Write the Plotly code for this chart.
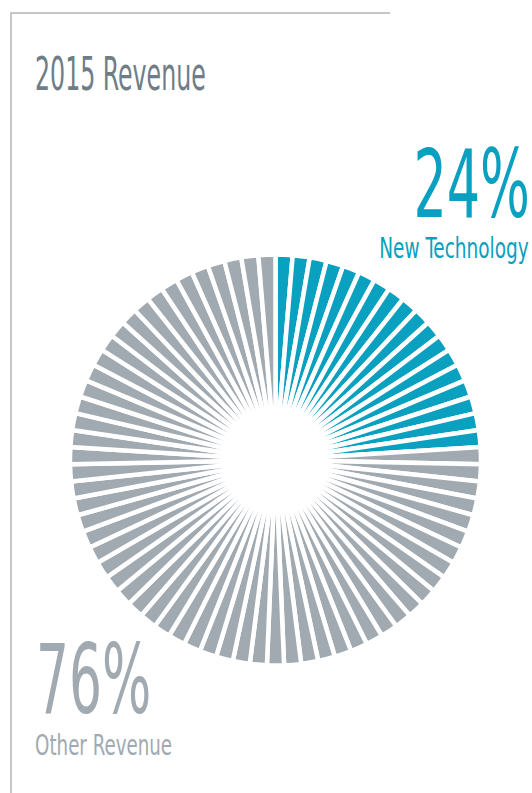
import json
import plotly.graph_objects as go

# ---- data ----
categories = ["New Technology", "Other Revenue"]
shares = [24, 76]            # percent
total_wedges = 75            # number of rays in the sunburst
title_text = "2015 Revenue"

W, H = 532, 793
TEAL = "#0aa0c0"
GRAY = "#a1a9b1"
TITLE_C = "#6f7d87"
FONT = "DejaVu Sans Condensed, DejaVu Sans, sans-serif"

def px(x):
    return x / W

def py(y):
    return 1 - y / H

# wedges per category from shares
counts = [round(s / sum(shares) * total_wedges) for s in shares]
colors = []
for c, col in zip(counts, [TEAL, GRAY]):
    colors += [col] * c
n = len(colors)

fig = go.Figure()
fig.add_trace(go.Pie(
    values=[1] * n,
    labels=[f"w{i}" for i in range(n)],
    marker=dict(colors=colors, line=dict(color="white", width=4.5)),
    sort=False,
    direction="clockwise",
    rotation=0,
    textinfo="none",
    hoverinfo="skip",
    showlegend=False,
    domain=dict(x=[px(70), px(481)], y=[py(666), py(254)]),
))

# (annotation, horizontal condensing factor)
annos = [
    (dict(text=title_text, x=px(33), y=py(74), xanchor="left", yanchor="middle",
          font=dict(size=47, color=TITLE_C)), 0.56),
    (dict(text=f"{shares[0]}%", x=px(532), y=py(184), xanchor="right", yanchor="middle",
          font=dict(size=94, color=TEAL)), 0.62),
    (dict(text=categories[0], x=px(531), y=py(248), xanchor="right", yanchor="middle",
          font=dict(size=29, color=TEAL)), 0.71),
    (dict(text=f"{shares[1]}%", x=px(34), y=py(680), xanchor="left", yanchor="middle",
          font=dict(size=96, color=GRAY)), 0.60),
    (dict(text=categories[1], x=px(33), y=py(745), xanchor="left", yanchor="middle",
          font=dict(size=29, color=GRAY)), 0.70),
]
anno_list = []
scales = []
for a, s in annos:
    a.update(xref="paper", yref="paper", showarrow=False)
    a["font"]["family"] = FONT
    anno_list.append(a)
    scales.append({"s": s, "side": a["xanchor"]})

shapes = [
    dict(type="line", xref="paper", yref="paper", x0=px(10), x1=px(390), y0=py(13), y1=py(13),
         line=dict(color="#c4c6c8", width=2)),
    dict(type="line", xref="paper", yref="paper", x0=px(11), x1=px(11), y0=py(12), y1=py(793),
         line=dict(color="#c4c6c8", width=2)),
]

fig.update_layout(
    width=W, height=H,
    margin=dict(l=0, r=0, t=0, b=0),
    paper_bgcolor="white", plot_bgcolor="white",
    annotations=anno_list, shapes=shapes,
)

post = """
(function(){
  var gd = document.getElementById('{plot_id}');
  var sc = %s;
  var els = gd.querySelectorAll('g.annotation');
  els.forEach(function(a, i){
    if (i >= sc.length) return;
    var t = a.querySelector('text.annotation-text');
    if (!t) return;
    var b = t.getBBox();
    var ax = sc[i].side === 'right' ? b.x + b.width : b.x;
    t.setAttribute('transform', 'translate(' + ax + ',0) scale(' + sc[i].s + ',1) translate(' + (-ax) + ',0)');
  });
})();
""" % json.dumps(scales)

fig.write_html("out.html", post_script=post)
